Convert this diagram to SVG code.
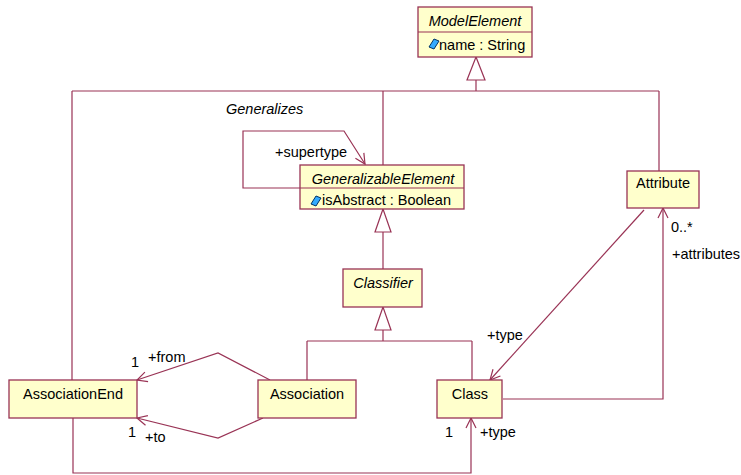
<svg xmlns="http://www.w3.org/2000/svg" width="741" height="475" viewBox="0 0 741 475">
<style>
.box{fill:#ffffcc;stroke:#993355;stroke-width:1.3}
.ln{fill:none;stroke:#993355;stroke-width:1.2}
.tri{fill:#ffffff;stroke:#993355;stroke-width:1.2}
text{font-family:"Liberation Sans",Arial,sans-serif;font-size:14.5px;fill:#000}
.c{text-anchor:middle}
.i{font-style:italic}
.gem{fill:#33aaff;stroke:#003366;stroke-width:1}
</style>
<defs>
<marker id="open" viewBox="0 0 12 12" refX="11" refY="6" markerWidth="12" markerHeight="12" markerUnits="userSpaceOnUse" orient="auto">
<path d="M1,1 L11,6 L1,11" fill="none" stroke="#993355" stroke-width="1.2"/>
</marker>
</defs>
<g id="connectors">
<path class="ln" d="M476,80 V91 M72,91 H659 M72,91 V380 M383,91 V165 M659,91 V171"/>
<polygon class="tri" points="476,57 467,80 485,80"/>
<path class="ln" d="M383,232 V269"/>
<polygon class="tri" points="383,209 375,232 391,232"/>
<path class="ln" d="M383,330 V341 M307,341 H472 M307,341 V380 M472,341 V380"/>
<polygon class="tri" points="383,307 375,330 391,330"/>
<path class="ln" d="M300,188 H243 V131 H344 L365,164" marker-end="url(#open)"/>
<path class="ln" d="M270,380 L218,353 L137,380" marker-end="url(#open)"/>
<path class="ln" d="M263,418 L218,438 L137,418" marker-end="url(#open)"/>
<path class="ln" d="M644,210 L490,380" marker-end="url(#open)"/>
<path class="ln" d="M503,399 H663 V208" marker-end="url(#open)"/>
<path class="ln" d="M73,418 V473 H471 V418" marker-end="url(#open)"/>
</g>
<g id="ModelElement">
<rect class="box" x="418" y="7" width="114" height="50"/>
<line class="ln" x1="418" y1="32" x2="532" y2="32"/>
<text class="c i" x="475" y="26">ModelElement</text>
<polygon class="gem" points="429,47 434,39 439,41 434,49"/>
<text x="439" y="50">name : String</text>
</g>
<g id="GeneralizableElement">
<rect class="box" x="300" y="165" width="164" height="44"/>
<line class="ln" x1="300" y1="188" x2="464" y2="188"/>
<text class="c i" x="383" y="184">GeneralizableElement</text>
<polygon class="gem" points="311,204 316,196 321,198 316,206"/>
<text x="322" y="205">isAbstract : Boolean</text>
</g>
<g id="Attribute">
<rect class="box" x="627" y="171" width="72" height="37"/>
<text class="c" x="663" y="188">Attribute</text>
</g>
<g id="Classifier">
<rect class="box" x="343" y="269" width="79" height="38"/>
<text class="c i" x="383" y="288">Classifier</text>
</g>
<g id="AssociationEnd">
<rect class="box" x="9" y="380" width="128" height="38"/>
<text class="c" x="73" y="399">AssociationEnd</text>
</g>
<g id="Association">
<rect class="box" x="258" y="380" width="98" height="38"/>
<text class="c" x="307" y="399">Association</text>
</g>
<g id="Class">
<rect class="box" x="437" y="380" width="65" height="38"/>
<text class="c" x="470" y="399">Class</text>
</g>
<g id="labels">
<text class="i" x="226" y="114">Generalizes</text>
<text x="275" y="157">+supertype</text>
<text x="671" y="232">0..*</text>
<text x="672" y="259">+attributes</text>
<text x="487" y="340">+type</text>
<text x="131" y="367">1</text>
<text x="148" y="362">+from</text>
<text x="128" y="437">1</text>
<text x="145" y="442">+to</text>
<text x="445" y="437">1</text>
<text x="480" y="437">+type</text>
</g>
</svg>
